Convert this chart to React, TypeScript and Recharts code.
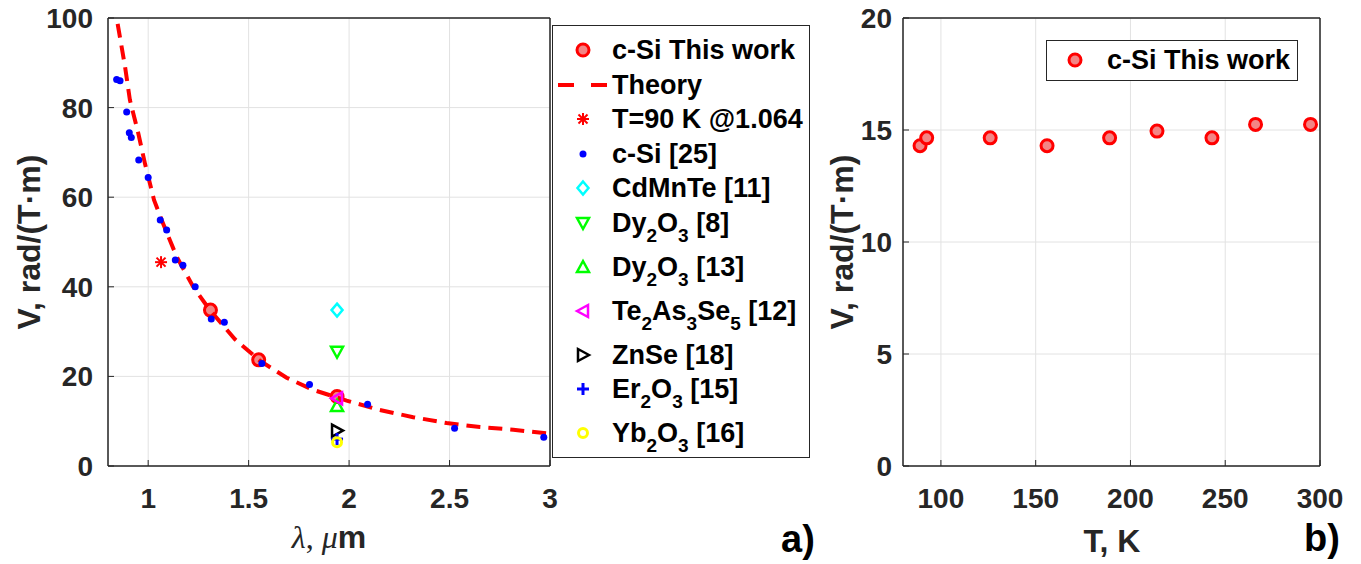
import React from 'react'
import { ScatterChart, Scatter, XAxis, YAxis, CartesianGrid, Legend } from 'recharts'

// ---- panel a) : Verdet constant vs wavelength ----
const LAMBDA_TICKS = [1, 1.5, 2, 2.5, 3]
const V_TICKS_A = [0, 20, 40, 60, 80, 100]

const thisWorkLambda = [1.31, 1.55, 1.94]
const thisWorkV = [34.8, 23.7, 15.5]

const theoryLambda = [0.848, 0.885, 0.909, 0.951, 0.984, 1.029, 1.067, 1.142, 1.224, 1.307, 1.432, 1.556, 1.689, 1.821, 1.988, 2.153, 2.319, 2.485, 2.651, 2.817, 2.983]
const theoryV = [98.7, 89.1, 81.7, 74.2, 67.5, 59.4, 54.9, 46.7, 40.0, 34.8, 28.3, 23.5, 19.7, 17.0, 14.6, 12.5, 10.9, 9.6, 8.7, 8.1, 7.3]

const starLambda = [1.064]
const starV = [45.5]

const cSi25Lambda = [0.843, 0.86, 0.893, 0.906, 0.916, 0.953, 1.0, 1.06, 1.092, 1.135, 1.173, 1.234, 1.314, 1.379, 1.566, 1.803, 2.092, 2.525, 2.969]
const cSi25V = [86.3, 86.0, 79.0, 74.4, 73.3, 68.3, 64.4, 54.9, 52.7, 46.0, 44.8, 40.0, 32.8, 32.1, 22.9, 18.2, 13.8, 8.4, 6.4]

// literature values, all at 1.94 um
const litLambda = 1.94
const cdMnTeV = [34.8]
const dy8V = [25.5]
const dy13V = [13.4]
const teAsSeV = [15.1]
const znSeV = [7.9]
const erV = [6.0]
const ybV = [5.3]

// ---- panel b) : Verdet constant vs temperature ----
const T_TICKS = [100, 150, 200, 250, 300]
const V_TICKS_B = [0, 5, 10, 15, 20]
const tempK = [89, 92.5, 126, 156, 189, 214, 243, 266, 295]
const tempV = [14.3, 14.65, 14.65, 14.3, 14.65, 14.95, 14.65, 15.25, 15.25]

const zip = (xs: number[], ys: number[]) => xs.map((x, i) => ({ x, y: ys[i] }))
const at = (x: number, ys: number[]) => ys.map(y => ({ x, y }))

type Kind = 'thisWork' | 'theory' | 'star' | 'dot' | 'diamond' | 'triDown' | 'triUp' | 'triLeft' | 'triRight' | 'plus' | 'ring'

const SANS = '"Liberation Sans", Arial, sans-serif'
const SERIF = '"Liberation Serif", "Times New Roman", serif'
const AXIS = '#262626'

function Marker({ kind, cx, cy }: { kind: Kind; cx: number; cy: number }) {
  const sw = 2.5
  switch (kind) {
    case 'thisWork':
      return <circle cx={cx} cy={cy} r={6} fill="#f38585" stroke="#ff0000" strokeWidth={3} />
    case 'theory':
      return <line x1={cx - 25} x2={cx + 24} y1={cy} y2={cy} stroke="#ff0000" strokeWidth={4} strokeDasharray="16 17" />
    case 'star':
      return (
        <g stroke="#ff0000" strokeWidth={2}>
          <line x1={cx - 6} x2={cx + 6} y1={cy} y2={cy} />
          <line x1={cx} x2={cx} y1={cy - 6} y2={cy + 6} />
          <line x1={cx - 4.5} x2={cx + 4.5} y1={cy - 4.5} y2={cy + 4.5} />
          <line x1={cx - 4.5} x2={cx + 4.5} y1={cy + 4.5} y2={cy - 4.5} />
        </g>
      )
    case 'dot':
      return <circle cx={cx} cy={cy} r={3.5} fill="#0000ff" />
    case 'diamond':
      return <polygon points={`${cx},${cy - 6.5} ${cx + 5.5},${cy} ${cx},${cy + 6.5} ${cx - 5.5},${cy}`} fill="none" stroke="#00ffff" strokeWidth={sw} />
    case 'triDown':
      return <polygon points={`${cx - 6},${cy - 5} ${cx + 6},${cy - 5} ${cx},${cy + 6}`} fill="none" stroke="#00ff00" strokeWidth={sw} />
    case 'triUp':
      return <polygon points={`${cx - 6},${cy + 5} ${cx + 6},${cy + 5} ${cx},${cy - 6}`} fill="none" stroke="#00ff00" strokeWidth={sw} />
    case 'triLeft':
      return <polygon points={`${cx - 6},${cy} ${cx + 5},${cy - 6} ${cx + 5},${cy + 6}`} fill="none" stroke="#ff00ff" strokeWidth={sw} />
    case 'triRight':
      return <polygon points={`${cx + 6},${cy} ${cx - 5},${cy - 6} ${cx - 5},${cy + 6}`} fill="none" stroke="#000000" strokeWidth={sw} />
    case 'plus':
      return (
        <g stroke="#0000ff" strokeWidth={3}>
          <line x1={cx - 6} x2={cx + 6} y1={cy} y2={cy} />
          <line x1={cx} x2={cx} y1={cy - 6} y2={cy + 6} />
        </g>
      )
    case 'ring':
      return <circle cx={cx} cy={cy} r={4.5} fill="none" stroke="#ffff00" strokeWidth={3} />
  }
  return null
}

const shapeOf = (kind: Kind) => (p: any) => <Marker kind={kind} cx={p.cx} cy={p.cy} />

// label text uses _N for a subscript digit
function RichLabel({ text }: { text: string }) {
  const parts = text.split(/_(\d)/)
  return (
    <>
      {parts.map((s, i) =>
        i % 2 === 1 ? (
          <span key={i} style={{ fontSize: 19, position: 'relative', top: 10, lineHeight: 0 }}>{s}</span>
        ) : (
          <span key={i}>{s}</span>
        )
      )}
    </>
  )
}

const LEGEND_A: { label: string; kind: Kind }[] = [
  { label: 'c-Si This work', kind: 'thisWork' },
  { label: 'Theory', kind: 'theory' },
  { label: 'T=90 K @1.064', kind: 'star' },
  { label: 'c-Si [25]', kind: 'dot' },
  { label: 'CdMnTe [11]', kind: 'diamond' },
  { label: 'Dy_2O_3 [8]', kind: 'triDown' },
  { label: 'Dy_2O_3 [13]', kind: 'triUp' },
  { label: 'Te_2As_3Se_5 [12]', kind: 'triLeft' },
  { label: 'ZnSe [18]', kind: 'triRight' },
  { label: 'Er_2O_3 [15]', kind: 'plus' },
  { label: 'Yb_2O_3 [16]', kind: 'ring' },
]

const legendText: React.CSSProperties = {
  fontFamily: SANS,
  fontWeight: 700,
  fontSize: 27,
  color: '#000',
  lineHeight: '34px',
  whiteSpace: 'nowrap',
}

function LegendRow({ label, kind, markerX, textX }: { label: string; kind: Kind; markerX: number; textX: number }) {
  return (
    <div style={{ position: 'relative', height: label.includes('_') ? 44 : 34.5 }}>
      <svg width={textX} height={34} style={{ position: 'absolute', left: 0, top: 0 }}>
        <Marker kind={kind} cx={markerX} cy={17} />
      </svg>
      <div style={{ ...legendText, position: 'absolute', left: textX, top: 0 }}>
        <RichLabel text={label} />
      </div>
    </div>
  )
}

function LegendBoxA() {
  return (
    <div
      style={{
        width: 258,
        height: 433,
        boxSizing: 'border-box',
        border: `1.5px solid ${AXIS}`,
        background: '#fff',
        paddingTop: 7,
      }}
    >
      {LEGEND_A.map(e => (
        <LegendRow key={e.label} label={e.label} kind={e.kind} markerX={30} textX={59} />
      ))}
    </div>
  )
}

function LegendBoxB() {
  return (
    <div
      style={{
        width: 252,
        height: 41,
        boxSizing: 'border-box',
        border: `1.5px solid ${AXIS}`,
        background: '#fff',
        paddingTop: 2,
      }}
    >
      <LegendRow label="c-Si This work" kind="thisWork" markerX={28} textX={60} />
    </div>
  )
}

const tickStyle = { fill: AXIS, fontSize: 28, fontWeight: 700, fontFamily: SANS }
const gridColor = '#e2e2e2'
const frame = { stroke: AXIS, strokeWidth: 1.5 }

export default function App() {
  return (
    <div style={{ position: 'absolute', left: 0, top: 0, width: 1361, height: 564, background: '#fff', overflow: 'hidden' }}>
      <div style={{ position: 'absolute', left: 0, top: 0 }}>
        <ScatterChart width={830} height={564} margin={{ top: 17, right: 279, bottom: 58, left: 48 }}>
          <CartesianGrid stroke={gridColor} strokeWidth={1} />
          <XAxis
            type="number"
            dataKey="x"
            domain={[0.8, 3]}
            ticks={LAMBDA_TICKS}
            interval={0}
            allowDataOverflow
            height={40}
            tickSize={-6}
            tickMargin={28}
            axisLine={frame}
            tickLine={{ stroke: AXIS }}
            tick={tickStyle}
          />
          <XAxis xAxisId="top" orientation="top" type="number" domain={[0.8, 3]} ticks={LAMBDA_TICKS} allowDataOverflow height={1} tickSize={-6} tick={false} axisLine={frame} tickLine={{ stroke: AXIS }} />
          <YAxis
            type="number"
            dataKey="y"
            domain={[0, 100]}
            ticks={V_TICKS_A}
            interval={0}
            allowDataOverflow
            width={60}
            tickSize={-6}
            tickMargin={21}
            axisLine={frame}
            tickLine={{ stroke: AXIS }}
            tick={tickStyle}
          />
          <YAxis yAxisId="right" orientation="right" type="number" domain={[0, 100]} ticks={V_TICKS_A} allowDataOverflow width={1} tickSize={-6} tick={false} axisLine={frame} tickLine={{ stroke: AXIS }} />
          <Legend
            layout="vertical"
            align="center"
            verticalAlign="middle"
            wrapperStyle={{ left: 552, top: 25, width: 258, height: 433 }}
            content={() => <LegendBoxA />}
          />
          <Scatter name="c-Si This work" data={zip(thisWorkLambda, thisWorkV)} shape={shapeOf('thisWork')} isAnimationActive={false} />
          <Scatter
            name="Theory"
            data={zip(theoryLambda, theoryV)}
            line={{ stroke: '#ff0000', strokeWidth: 4, strokeDasharray: '14 8' }}
            shape={() => <g />}
            isAnimationActive={false}
          />
          <Scatter name="T=90 K @1.064" data={zip(starLambda, starV)} shape={shapeOf('star')} isAnimationActive={false} />
          <Scatter name="c-Si [25]" data={zip(cSi25Lambda, cSi25V)} shape={shapeOf('dot')} isAnimationActive={false} />
          <Scatter name="CdMnTe [11]" data={at(litLambda, cdMnTeV)} shape={shapeOf('diamond')} isAnimationActive={false} />
          <Scatter name="Dy2O3 [8]" data={at(litLambda, dy8V)} shape={shapeOf('triDown')} isAnimationActive={false} />
          <Scatter name="Dy2O3 [13]" data={at(litLambda, dy13V)} shape={shapeOf('triUp')} isAnimationActive={false} />
          <Scatter name="Te2As3Se5 [12]" data={at(litLambda, teAsSeV)} shape={shapeOf('triLeft')} isAnimationActive={false} />
          <Scatter name="ZnSe [18]" data={at(litLambda, znSeV)} shape={shapeOf('triRight')} isAnimationActive={false} />
          <Scatter name="Er2O3 [15]" data={at(litLambda, erV)} shape={shapeOf('plus')} isAnimationActive={false} />
          <Scatter name="Yb2O3 [16]" data={at(litLambda, ybV)} shape={shapeOf('ring')} isAnimationActive={false} />
        </ScatterChart>
      </div>

      <div style={{ position: 'absolute', left: 830, top: 0 }}>
        <ScatterChart width={531} height={564} margin={{ top: 17, right: 40, bottom: 58, left: 23 }}>
          <CartesianGrid stroke={gridColor} strokeWidth={1} />
          <XAxis
            type="number"
            dataKey="x"
            domain={[80, 300]}
            ticks={T_TICKS}
            interval={0}
            allowDataOverflow
            height={40}
            tickSize={-6}
            tickMargin={28}
            axisLine={frame}
            tickLine={{ stroke: AXIS }}
            tick={tickStyle}
          />
          <XAxis xAxisId="top" orientation="top" type="number" domain={[80, 300]} ticks={T_TICKS} allowDataOverflow height={1} tickSize={-6} tick={false} axisLine={frame} tickLine={{ stroke: AXIS }} />
          <YAxis
            type="number"
            dataKey="y"
            domain={[0, 20]}
            ticks={V_TICKS_B}
            interval={0}
            allowDataOverflow
            width={50}
            tickSize={-6}
            tickMargin={17}
            axisLine={frame}
            tickLine={{ stroke: AXIS }}
            tick={tickStyle}
          />
          <YAxis yAxisId="right" orientation="right" type="number" domain={[0, 20]} ticks={V_TICKS_B} allowDataOverflow width={1} tickSize={-6} tick={false} axisLine={frame} tickLine={{ stroke: AXIS }} />
          <Legend
            layout="vertical"
            align="center"
            verticalAlign="middle"
            wrapperStyle={{ left: 216, top: 40, width: 252, height: 41 }}
            content={() => <LegendBoxB />}
          />
          <Scatter name="c-Si This work" data={zip(tempK, tempV)} shape={shapeOf('thisWork')} isAnimationActive={false} />
        </ScatterChart>
      </div>

      <svg width={1361} height={564} style={{ position: 'absolute', left: 0, top: 0, pointerEvents: 'none' }}>
        <g fontFamily={SANS} fontWeight={700} fontSize={32} fill={AXIS}>
          <text transform="translate(40,242) rotate(-90)" textAnchor="middle">V, rad/(T·m)</text>
          <text transform="translate(853,242) rotate(-90)" textAnchor="middle">V, rad/(T·m)</text>
          <text x={1112} y={552} textAnchor="middle">T, K</text>
        </g>
        <text x={329} y={548} textAnchor="middle" fontSize={32} fill={AXIS}>
          <tspan fontFamily={SERIF} fontStyle="italic">λ</tspan>
          <tspan fontFamily={SERIF}>, </tspan>
          <tspan fontFamily={SERIF} fontStyle="italic">μ</tspan>
          <tspan fontFamily={SANS} fontWeight={700}>m</tspan>
        </text>
        <g fontFamily={SANS} fontWeight={700} fontSize={38} fill="#000">
          <text x={781} y={552}>a)</text>
          <text x={1304} y={551}>b)</text>
        </g>
      </svg>
    </div>
  )
}
